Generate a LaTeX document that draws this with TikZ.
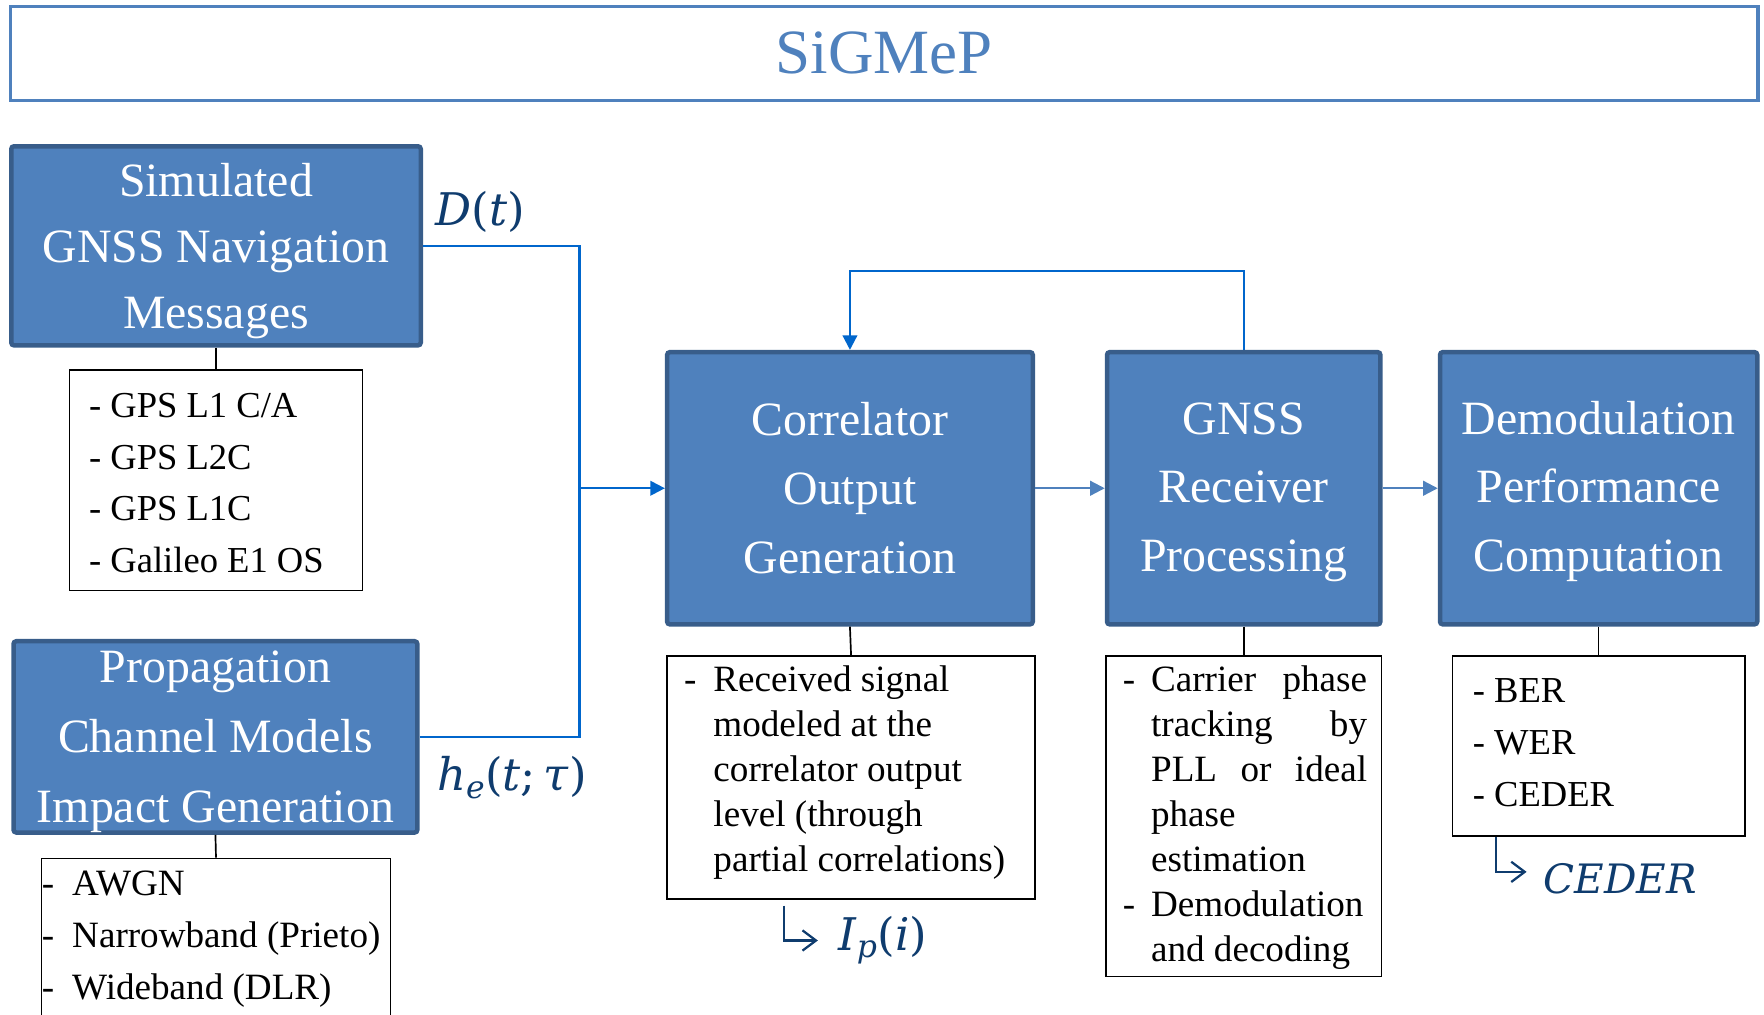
\documentclass[tikz,border=0pt]{standalone}
\usepackage{fontspec}
\setmainfont{Liberation Serif}
\newfontfamily\labfont{DejaVu Serif}
\usetikzlibrary{arrows.meta}

\definecolor{boxfill}{HTML}{4F81BD}
\definecolor{boxedge}{HTML}{385D8A}
\definecolor{cwire}{HTML}{0066CC}
\definecolor{cink}{HTML}{0F3C6E}

% dash and hanging indent for the bullet lists
\newcommand{\dsh}[1]{\makebox[#1][l]{-}}
\newcommand{\hang}[1]{\hspace*{#1}}
% invisible strut that lowers a centred block of lines
\newcommand{\lift}[1]{\rule{0pt}{#1}}

\begin{document}
\begin{tikzpicture}[x=1pt,y=-1pt,
  block/.style={draw=boxedge, fill=boxfill, line width=4pt, rounded corners=2.5pt,
    text=white, align=center, inner sep=0pt},
  blockfont/.style={font=\fontsize{42.5}{#1}\selectfont},
  listbox/.style={draw=black, line width=1.2pt, inner sep=0pt},
  listtext/.style={inner sep=0pt, align=left, anchor=west},
  wireline/.style={draw=cwire, line width=2pt},
  flowline/.style={draw=boxfill, line width=2pt},
  tiparrow/.style={-{Triangle[length=13pt,width=13pt]}},
  linkline/.style={draw=black, line width=1.5pt},
  hookline/.style={draw=cink, line width=2pt, -{Straight Barb[length=12pt,width=18pt]}},
  sym/.style={text=cink, inner sep=0pt, font=\labfont\fontsize{40}{42}\selectfont}]

\useasboundingbox (0,0) rectangle (1568,902);
\clip (0,0) rectangle (1568,902);

% title banner
\node[draw=boxfill, line width=3pt, minimum width=1553pt, minimum height=84pt,
      inner sep=0pt, text=boxfill, font=\fontsize{56}{60}\selectfont]
      (title) at (786,47.5) {SiGMeP};

% main processing blocks
\node[block, blockfont=59, minimum width=364pt, minimum height=177pt] (sim) at (192,218.5)
  {\lift{39pt}Simulated\\GNSS Navigation\\Messages};
\node[block, blockfont=62, minimum width=359pt, minimum height=168pt] (prop) at (191.5,655)
  {\lift{37pt}Propagation\\Channel Models\\Impact Generation};
\node[block, blockfont=61, minimum width=325pt, minimum height=242pt] (corr) at (755.5,434)
  {Correlator\\Output\\Generation};
\node[block, blockfont=61, minimum width=243pt, minimum height=242pt] (recv) at (1105.5,434)
  {\lift{35pt}GNSS\\Receiver\\Processing};
\node[block, blockfont=61, minimum width=282pt, minimum height=242pt] (demod) at (1421,434)
  {\lift{35pt}Demodulation\\Performance\\Computation};

% detail boxes under the blocks
\node[listbox, minimum width=260pt, minimum height=196pt] (simlist) at (192,427) {};
\node[listbox, minimum width=310pt, minimum height=142pt] (proplist) at (192,834) {};
\node[listbox, minimum width=327pt, minimum height=216pt] (corrlist) at (756.5,691) {};
\node[listbox, minimum width=245pt, minimum height=285pt] (recvlist) at (1105.5,725.5) {};
\node[listbox, minimum width=260pt, minimum height=160pt] (demodlist) at (1421,663) {};

\node[listtext, font=\fontsize{32.5}{46}\selectfont] (simtext) at (79,429.5)
  {- GPS L1 C/A\\- GPS L2C\\- GPS L1C\\- Galileo E1 OS};
\node[listtext, font=\fontsize{33}{46}\selectfont] (proptext) at (37,835)
  {\dsh{27pt}AWGN\\\dsh{27pt}Narrowband (Prieto)\\\dsh{27pt}Wideband (DLR)};
\node[listtext, font=\fontsize{33}{40}\selectfont] (corrtext) at (608,687)
  {\dsh{26pt}Received signal\\\hang{26pt}modeled at the\\\hang{26pt}correlator output\\
   \hang{26pt}level (through\\\hang{26pt}partial correlations)};
\node[listtext, font=\fontsize{33}{40}\selectfont] (recvtext) at (998,727)
  {\dsh{25pt}\makebox[192pt][s]{Carrier phase}\\
   \hang{25pt}\makebox[192pt][s]{tracking by}\\
   \hang{25pt}\makebox[192pt][s]{PLL or ideal}\\
   \hang{25pt}phase\\\hang{25pt}estimation\\
   \dsh{25pt}Demodulation\\\hang{25pt}and decoding};
\node[listtext, font=\fontsize{32.5}{46}\selectfont] (demodtext) at (1309,660)
  {- BER\\- WER\\- CEDER};

% ties from blocks to their detail boxes
\draw[linkline] (sim.south) -- (simlist.north);
\draw[linkline] (prop.south) -- (proplist.north);
\draw[linkline] (corr.south) -- (corrlist.north);
\draw[linkline] (recv.south) -- (recvlist.north);
\draw[linkline] (demod.south) -- (demodlist.north);

% signal inputs merging into the correlator
\coordinate (merge) at (515,434);
\draw[wireline] (sim.east) -| (merge);
\draw[wireline] (prop.east) -| (merge);
\draw[wireline, tiparrow] (merge) -- (corr.west);

% processing chain
\draw[flowline, tiparrow] (corr.east) -- (recv.west);
\draw[flowline, tiparrow] (recv.east) -- (demod.west);

% tracking feedback loop
\coordinate (loopR) at (1105.5,241);
\coordinate (loopL) at (755.5,241);
\draw[wireline, tiparrow] (recv.north) -- (loopR) -- (loopL) -- (corr.north);

% signal labels
\node[sym, anchor=base] (dlab) at (427,200) {\textit{D}(\textit{t})};
\node[sym, anchor=base] (hlab) at (455,703)
  {\textit{h}\textsubscript{\textit{e}}(\textit{t};\,\textit{τ})};
\node[sym, anchor=base west] (iplab) at (745,845)
  {\textit{I}\textsubscript{\textit{p}}(\textit{i})};
\node[sym, anchor=base west, font=\labfont\fontsize{36}{40}\selectfont] (cederlab)
  at (1372,794) {\textit{CEDER}};

% output hooks
\coordinate (iptop) at (697,805);
\coordinate (ipbend) at (697,836);
\coordinate (ipend) at (727,836);
\draw[hookline] (iptop) -- (ipbend) -- (ipend);
\coordinate (cedertop) at (1330,744);
\coordinate (cederbend) at (1330,775);
\coordinate (cederend) at (1357,775);
\draw[hookline] (cedertop) -- (cederbend) -- (cederend);

\end{tikzpicture}
\end{document}
